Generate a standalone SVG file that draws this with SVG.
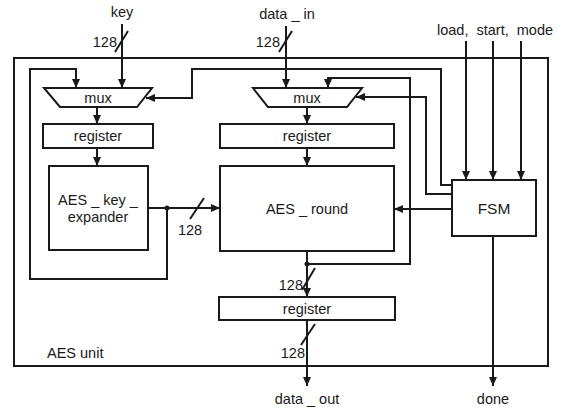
<svg xmlns="http://www.w3.org/2000/svg" width="564" height="409" viewBox="0 0 564 409">
<style>
  .box { fill: #fff; stroke: #1a1a1a; stroke-width: 2; }
  .frame { fill: none; stroke: #1a1a1a; stroke-width: 2; }
  .w { fill: none; stroke: #1a1a1a; stroke-width: 2; }
  .wa { fill: none; stroke: #1a1a1a; stroke-width: 2; marker-end: url(#ah); }
  .sl { stroke: #1a1a1a; stroke-width: 2; }
  text { font-family: "Liberation Sans", Arial, sans-serif; font-size: 14.5px; fill: #1a1a1a; }
  .c { text-anchor: middle; }
</style>
<defs>
  <marker id="ah" markerUnits="userSpaceOnUse" markerWidth="10" markerHeight="10" refX="9" refY="4" orient="auto">
    <path d="M0,0 L9,4 L0,8 Z" fill="#1a1a1a"/>
  </marker>
</defs>

<g id="aes-unit">
  <rect class="frame" x="14" y="58" width="534" height="308"/>
  <text x="47" y="358">AES unit</text>
</g>

<g id="connectors">
  <!-- key input -->
  <line class="wa" x1="122" y1="24" x2="122" y2="88"/>
  <line class="sl" x1="115" y1="52" x2="128" y2="31"/>
  <text x="117" y="47" text-anchor="end">128</text>
  <!-- data_in -->
  <line class="wa" x1="286" y1="26" x2="286" y2="88"/>
  <line class="sl" x1="279" y1="52" x2="292" y2="31"/>
  <text x="280" y="47" text-anchor="end">128</text>
  <!-- left chain -->
  <line class="wa" x1="97" y1="107" x2="97" y2="124"/>
  <line class="wa" x1="97" y1="148" x2="97" y2="166"/>
  <!-- key expander loop -->
  <polyline class="wa" points="167,208 167,279 30,279 30,69 76,69 76,88"/>
  <line class="wa" x1="148" y1="208" x2="220" y2="208"/>
  <line class="sl" x1="190" y1="219" x2="204" y2="198"/>
  <text class="c" x="190" y="235">128</text>
  <circle cx="167" cy="208" r="2.5" fill="#1a1a1a"/>
  <!-- FSM to left mux -->
  <polyline class="wa" points="452,185 441,185 441,69 192,69 192,98 146,98"/>
  <!-- right chain -->
  <line class="wa" x1="307" y1="107" x2="307" y2="124"/>
  <line class="wa" x1="307" y1="148" x2="307" y2="166"/>
  <!-- round loop -->
  <polyline class="wa" points="307,264 410,264 410,78 328,78 328,88"/>
  <circle cx="307" cy="264" r="2.5" fill="#1a1a1a"/>
  <!-- FSM to right mux -->
  <polyline class="wa" points="452,194 426,194 426,97 356,97"/>
  <!-- FSM to round -->
  <line class="wa" x1="452" y1="209" x2="394" y2="209"/>
  <!-- control inputs -->
  <line class="wa" x1="466" y1="41" x2="466" y2="180"/>
  <line class="wa" x1="493" y1="41" x2="493" y2="180"/>
  <line class="wa" x1="521" y1="41" x2="521" y2="180"/>
  <!-- round to output register -->
  <line class="wa" x1="307" y1="251" x2="307" y2="297"/>
  <line class="sl" x1="302" y1="290" x2="315" y2="268"/>
  <text x="303" y="290" text-anchor="end">128</text>
  <!-- register to data_out -->
  <line class="wa" x1="307" y1="320" x2="307" y2="386"/>
  <line class="sl" x1="301" y1="345" x2="315" y2="324"/>
  <text x="305" y="358" text-anchor="end">128</text>
  <!-- done -->
  <line class="wa" x1="493" y1="236" x2="493" y2="386"/>
</g>

<g id="key-label"><text class="c" x="122" y="17">key</text></g>
<g id="data-in-label"><text class="c" x="287" y="19">data _ in</text></g>
<g id="ctrl-label"><text x="437" y="35" xml:space="preserve">load,  start,  mode</text></g>
<g id="data-out-label"><text class="c" x="307" y="404">data _ out</text></g>
<g id="done-label"><text class="c" x="493" y="404">done</text></g>

<g id="mux-left">
  <polygon class="box" points="44,88 152,88 137,107 60,107"/>
  <text class="c" x="98" y="103">mux</text>
</g>
<g id="register-left">
  <rect class="box" x="43" y="124" width="110" height="24"/>
  <text class="c" x="98" y="141">register</text>
</g>
<g id="aes-key-expander">
  <rect class="box" x="49" y="166" width="99" height="84"/>
  <text class="c" x="98" y="205">AES _ key _</text>
  <text class="c" x="98" y="222">expander</text>
</g>
<g id="mux-right">
  <polygon class="box" points="253,88 362,88 347,107 268,107"/>
  <text class="c" x="307" y="103">mux</text>
</g>
<g id="register-right">
  <rect class="box" x="220" y="124" width="174" height="24"/>
  <text class="c" x="307" y="141">register</text>
</g>
<g id="aes-round">
  <rect class="box" x="220" y="166" width="174" height="85"/>
  <text class="c" x="307" y="214">AES _ round</text>
</g>
<g id="fsm">
  <rect class="box" x="452" y="180" width="84" height="56"/>
  <text class="c" x="494" y="214" style="font-size:15.5px">FSM</text>
</g>
<g id="register-out">
  <rect class="box" x="219" y="297" width="176" height="23"/>
  <text class="c" x="307" y="314">register</text>
</g>
</svg>
